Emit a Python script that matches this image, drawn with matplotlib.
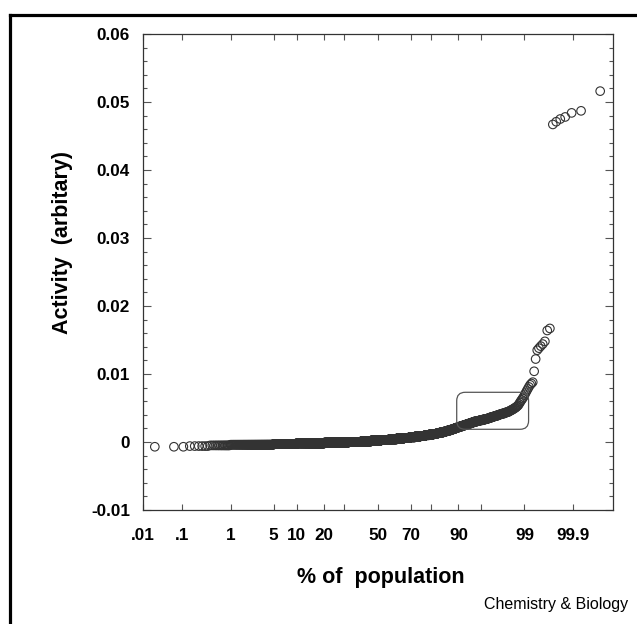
import numpy as np
import matplotlib
matplotlib.use('Agg')
import matplotlib.pyplot as plt
from matplotlib.lines import Line2D
from matplotlib.patches import FancyBboxPatch
from statistics import NormalDist

plt.rcParams['font.family'] = ['Liberation Sans', 'DejaVu Sans']

# activity levels (sorted sample) and how many compounds sit at each level
act_levels = [-0.0007, -0.0006, -0.0005, -0.0004, -0.0003, -0.0002, -0.0001, 0.0,
              0.0001, 0.0002, 0.0003, 0.0004, 0.0005, 0.0006, 0.0007, 0.0008,
              0.0009, 0.0010, 0.0011, 0.0012, 0.0013, 0.0014, 0.0015, 0.0016,
              0.0017, 0.0018, 0.0019, 0.0020, 0.0021, 0.0022, 0.0023, 0.0024,
              0.0025, 0.0026, 0.0027, 0.0028, 0.0029, 0.0030, 0.0031, 0.0032,
              0.0033, 0.0034, 0.0035, 0.0036, 0.0037, 0.0038, 0.0039, 0.0040,
              0.0041, 0.0042, 0.0043, 0.0044, 0.0045, 0.0046, 0.0047, 0.0048,
              0.0049, 0.0050, 0.0051, 0.0052, 0.0053, 0.0054]
act_counts = [3, 6, 14, 94, 118, 235, 282, 188,
              141, 141, 129, 106, 94, 82, 71, 58,
              59, 47, 40, 38, 28, 26, 21, 19,
              19, 16, 14, 12, 14, 12, 14, 12,
              11, 12, 10, 9, 9, 12, 12, 12,
              9, 9, 6, 6, 6, 6, 5, 4,
              5, 5, 3, 4, 2, 2, 2, 2,
              1, 2, 1, 1, 1, 1]
# the most active compounds, one value each
top_tail = [0.0056, 0.0058, 0.0060, 0.0062, 0.0064, 0.0066, 0.0069, 0.0072,
            0.0075, 0.0078, 0.0081, 0.0084, 0.0086, 0.0088, 0.0104, 0.0122,
            0.0135, 0.0138, 0.0141, 0.0144, 0.0148, 0.0164, 0.0167,
            0.0467, 0.0471, 0.0475, 0.0478, 0.0484, 0.0487, 0.0516]

pct_ticks = [0.01, 0.1, 1, 5, 10, 20, 50, 70, 90, 99, 99.9]
pct_labels = ['.01', '.1', '1', '5', '10', '20', '50', '70', '90', '99', '99.9']
pct_minor = [30, 80, 95]

activity = np.concatenate([np.repeat(act_levels, act_counts), top_tail])
activity = np.sort(activity)
n = len(activity)
percent = 100 * (np.arange(1, n + 1) - 0.5) / n

nd = NormalDist()
_ppf = np.vectorize(nd.inv_cdf, otypes=[float])
_cdf = np.vectorize(nd.cdf, otypes=[float])


def probit(p):
    p = np.clip(np.asarray(p, dtype=float) / 100.0, 1e-9, 1 - 1e-9)
    return _ppf(p)


def inv_probit(z):
    return 100.0 * _cdf(np.asarray(z, dtype=float))


fig = plt.figure(figsize=(6.37, 6.24), dpi=100)
ax = fig.add_axes([142.5 / 637, 1 - 510 / 624, 470 / 637, 476 / 624])
ax.set_xscale('function', functions=(probit, inv_probit))

ax.scatter(percent, activity, s=38, facecolors='none', edgecolors='#333333',
           linewidths=0.8, zorder=3)

ax.set_xlim(0.01, 99.99)
ax.set_ylim(-0.01, 0.06)

ax.set_xticks(pct_ticks)
ax.set_xticklabels(pct_labels)
ax.set_xticks(pct_minor, minor=True)
ax.set_xticklabels([''] * len(pct_minor), minor=True)
ax.set_yticks(np.arange(-0.01, 0.0601, 0.01))
ax.set_yticklabels(['-0.01', '0', '0.01', '0.02', '0.03', '0.04', '0.05', '0.06'])
ax.set_yticks(np.arange(-0.01, 0.0601, 0.002), minor=True)

ax.tick_params(axis='both', which='both', direction='in', top=True, right=True,
               color='#555555', width=0.8)
ax.tick_params(axis='x', which='both', length=4.5, pad=13)
ax.tick_params(axis='y', which='major', length=5.5, pad=9)
ax.tick_params(axis='y', which='minor', length=3)
for lab in ax.get_xticklabels() + ax.get_yticklabels():
    lab.set_fontsize(12.3)
    lab.set_fontweight('bold')
for sp in ax.spines.values():
    sp.set_color('#333333')
    sp.set_linewidth(0.9)

ax.set_xlabel('% of  population', fontsize=15.5, fontweight='bold', va='center')
ax.xaxis.set_label_coords(0.506, -0.141)
ax.set_ylabel('Activity  (arbitary)', fontsize=15.5, fontweight='bold', va='center')
ax.yaxis.set_label_coords(-0.171, 0.561)

# rounded box around the 90-99 % region
fig.canvas.draw()
corners = ax.transData.transform([[89.5, 0.00187], [99.16, 0.00731]])
(x0, y0), (x1, y1) = ax.transAxes.inverted().transform(corners)
box = FancyBboxPatch((x0, y0), x1 - x0, y1 - y0, transform=ax.transAxes,
                     boxstyle='round,pad=0,rounding_size=0.018',
                     facecolor='none', edgecolor='#555555', linewidth=0.9, zorder=4)
ax.add_patch(box)

fig.text(628 / 637, 1 - 604 / 624, 'Chemistry & Biology', ha='right', va='center',
         fontsize=11.5)

# panel border (top and left)
fig.add_artist(Line2D([10 / 637, 10 / 637], [0, 1 - 15 / 624], color='black', lw=2.3))
fig.add_artist(Line2D([10 / 637, 1], [1 - 15 / 624, 1 - 15 / 624], color='black', lw=2.3))

fig.savefig('out.png', dpi=100)
